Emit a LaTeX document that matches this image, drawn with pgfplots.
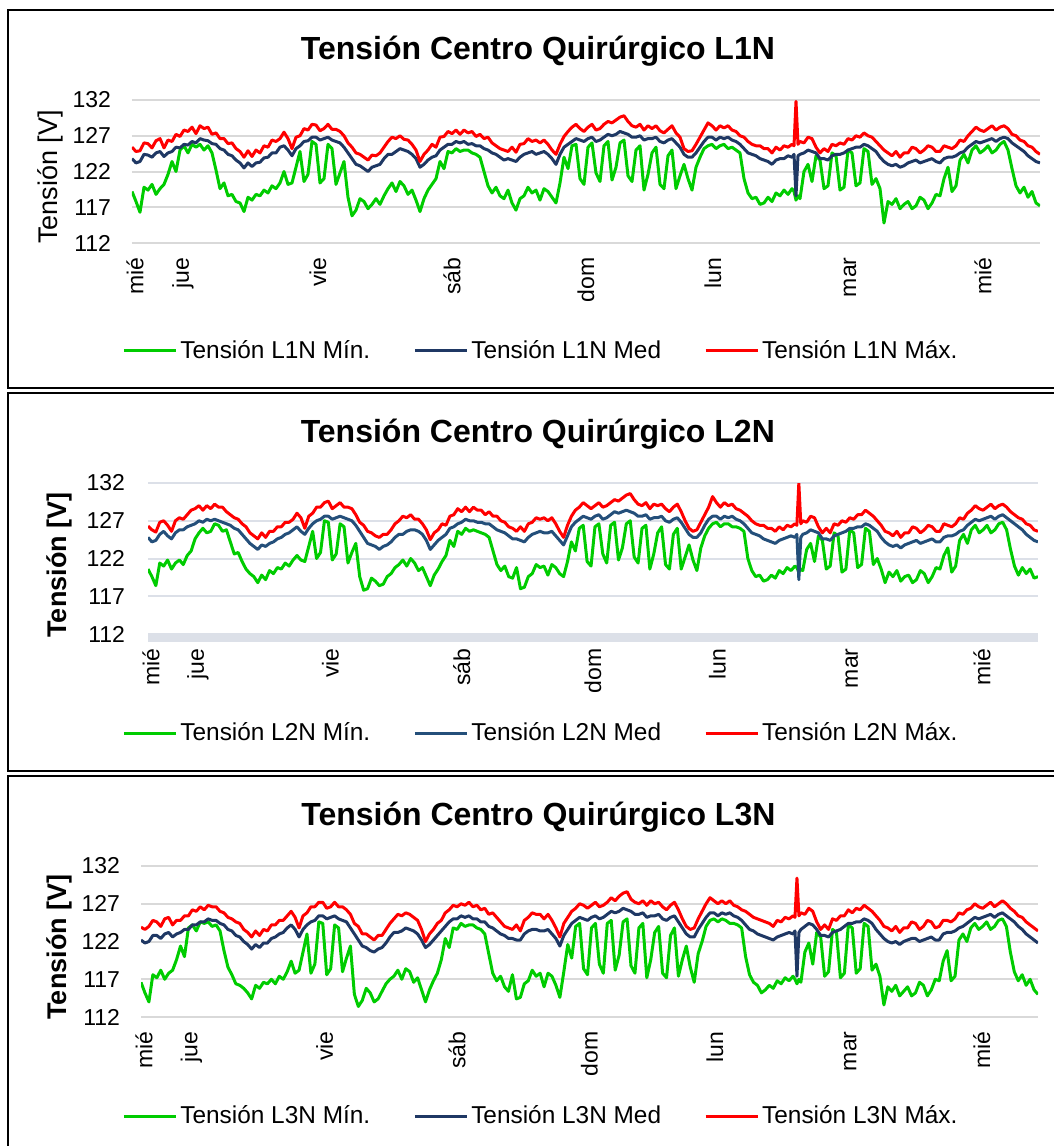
\documentclass[border=0pt]{standalone}
\usepackage{fontspec}
\setmainfont{Liberation Sans}
\usepackage{pgfplots}
\usepackage{pgfplotstable}
\pgfplotsset{compat=1.18}

\definecolor{cmin}{RGB}{0,204,0}
\definecolor{cmed}{RGB}{31,56,100}
\definecolor{cmedb}{RGB}{36,79,122}
\definecolor{cmax}{RGB}{255,0,0}
\definecolor{gridg}{RGB}{217,217,217}
\definecolor{gridb}{RGB}{220,224,232}

% columns: x (sample position), minimum, mean, maximum voltage
\pgfplotstableread{
x mn md mx
132 119.2 123.8 125.4
136 117.8 123.2 124.8
140 116.3 123.4 124.9
144 119.8 124.4 126.0
148 119.4 124.3 125.9
152 120.2 124.0 125.3
156 118.8 124.6 126.3
160 119.6 124.8 126.6
164 120.2 124.1 125.3
168 121.6 124.6 126.4
172 123.4 124.8 126.2
176 122.0 125.4 127.2
180 125.0 125.3 126.9
184 125.6 125.8 127.8
188 124.6 125.7 127.6
192 125.8 126.2 128.2
196 125.4 126.0 127.3
200 125.8 126.6 128.4
204 125.0 126.4 128.0
208 125.6 126.3 128.2
212 124.6 125.9 127.2
216 122.2 125.8 127.4
220 119.6 125.2 126.6
224 120.4 125.0 126.6
228 118.6 124.4 125.9
232 118.8 124.2 126.0
236 117.8 123.6 125.2
240 117.6 123.2 124.8
244 116.4 122.5 124.0
248 118.4 123.2 124.9
252 118.0 122.7 124.1
256 118.8 123.2 125.0
260 118.6 123.3 124.6
264 119.4 123.9 125.6
268 119.0 124.0 125.4
272 120.0 124.6 126.4
276 119.6 124.6 126.2
280 120.4 125.4 126.6
284 122.0 125.6 127.5
288 120.2 125.0 126.6
292 120.4 124.2 125.2
296 122.6 125.2 126.8
300 124.8 125.6 127.0
304 120.6 126.2 128.0
308 121.6 126.3 127.8
312 126.2 126.8 128.6
316 125.8 126.8 128.5
320 120.4 126.4 127.7
324 121.0 126.6 128.0
328 125.8 126.8 128.6
332 125.2 126.4 127.9
336 120.2 126.2 127.9
340 121.8 126.0 127.6
344 123.4 125.4 127.0
348 118.4 124.6 126.0
352 115.8 123.8 125.4
356 116.6 123.0 124.6
360 118.2 122.8 124.4
364 117.8 122.4 124.0
368 116.8 122.0 123.6
372 117.4 122.6 124.3
376 118.2 122.8 124.2
380 117.4 123.0 124.6
384 118.6 123.8 125.4
388 119.6 124.4 126.2
392 120.4 124.4 126.8
396 119.2 124.8 126.6
400 120.6 125.2 127.0
404 120.0 125.0 126.5
408 118.8 124.8 126.4
412 119.4 124.4 125.8
416 118.0 123.8 125.0
420 116.4 122.6 123.4
424 118.2 123.0 124.4
428 119.4 123.6 125.0
432 120.2 124.0 125.8
436 121.0 124.2 125.4
440 123.4 125.0 126.8
444 122.4 125.4 126.9
448 124.8 125.8 127.6
452 124.6 125.8 127.3
456 125.2 126.2 127.8
460 124.8 126.0 127.2
464 125.0 126.2 127.8
468 125.0 125.8 127.4
472 124.6 125.9 127.6
476 124.4 125.6 126.9
480 124.0 125.6 127.2
484 122.0 125.2 126.6
488 120.0 125.0 126.8
492 119.0 124.6 126.0
496 119.8 124.4 125.6
500 118.6 124.0 125.2
504 118.2 123.6 125.0
508 119.4 123.8 124.8
512 117.6 123.6 125.4
516 116.6 123.4 124.7
520 118.2 124.0 125.8
524 118.6 124.4 125.9
528 119.8 124.6 126.6
532 119.0 124.8 126.2
536 119.4 124.4 126.4
540 118.0 124.6 126.0
544 119.6 124.8 126.4
548 119.2 124.4 125.8
552 118.4 123.8 125.0
556 117.6 123.0 124.4
560 120.4 124.4 125.8
564 124.0 125.4 126.9
568 122.4 125.8 127.6
572 125.6 126.2 128.2
576 125.8 126.6 128.6
580 121.0 126.4 128.0
584 120.2 126.2 127.6
588 125.4 126.6 128.2
592 126.0 126.8 128.6
596 121.8 126.2 127.8
600 120.6 126.4 128.0
604 125.6 126.8 128.6
608 126.2 127.2 129.0
612 120.8 127.0 128.8
616 122.6 127.2 129.2
620 126.0 127.6 129.6
624 126.4 127.4 129.8
628 121.4 127.2 129.0
632 120.6 126.8 128.4
636 125.0 126.8 128.2
640 125.6 127.0 128.6
644 119.4 126.4 127.8
648 121.6 126.6 128.4
652 124.6 126.6 128.0
656 125.4 126.8 128.4
660 120.2 126.2 127.7
664 119.6 126.0 127.4
668 124.2 126.4 127.9
672 125.0 126.6 128.4
676 119.6 126.0 127.4
680 121.4 125.4 126.8
684 123.0 124.4 125.2
688 121.0 124.0 124.8
692 119.4 124.0 124.9
696 122.6 124.6 125.8
700 124.0 125.4 126.8
704 125.2 126.2 127.8
708 125.6 126.8 128.8
712 125.8 126.8 128.4
716 125.2 126.4 127.8
720 125.6 126.8 128.4
724 125.8 126.6 128.1
728 125.2 126.8 128.4
732 125.4 126.4 127.8
736 125.0 126.2 127.6
740 124.6 125.8 127.0
744 121.0 125.2 126.8
748 119.0 124.6 126.2
752 118.2 124.4 125.8
756 118.4 124.2 125.6
760 117.4 123.8 125.6
764 117.6 123.6 125.2
768 118.4 123.4 125.2
772 117.8 123.0 124.6
776 119.0 123.6 125.4
780 118.6 123.8 125.0
784 119.4 123.8 125.6
788 118.8 124.2 125.4
792 119.6 124.0 125.8
794 119.2 124.4 125.6
796 118.0 118.6 131.8
798 118.6 124.2 125.8
800 118.2 124.4 126.2
804 122.0 124.6 126.0
808 123.0 125.0 126.8
812 120.6 124.8 126.6
816 124.2 124.6 125.4
820 123.6 123.8 124.6
824 119.6 123.8 125.2
828 120.0 123.6 124.8
832 124.6 124.2 125.8
836 124.2 124.4 125.6
840 119.4 124.4 126.0
844 119.8 124.6 125.8
848 125.0 125.0 126.6
852 124.6 125.2 126.4
856 120.0 125.4 127.0
860 120.4 125.4 126.8
864 125.2 125.8 127.4
868 124.8 125.6 127.0
872 120.2 125.2 126.8
876 121.0 124.8 126.2
880 119.6 124.0 125.6
884 114.8 123.4 125.0
888 117.8 123.0 124.6
892 117.4 122.8 124.2
896 118.2 123.0 124.8
900 116.8 122.6 124.0
904 117.4 122.8 124.6
908 117.8 123.2 124.6
912 116.8 123.4 125.4
916 117.2 123.6 125.2
920 118.4 123.2 124.6
924 118.0 123.4 125.0
928 116.8 123.6 125.6
932 117.6 123.8 125.4
936 118.8 123.4 124.8
940 118.6 123.2 124.8
944 121.0 123.8 125.6
948 122.6 124.0 125.4
952 119.2 124.0 125.2
956 120.0 124.2 125.6
960 123.6 124.6 126.4
964 124.4 124.8 126.2
968 123.2 125.4 127.0
972 125.0 125.8 127.6
976 125.6 126.2 128.2
980 124.6 126.0 127.8
984 125.0 126.2 127.6
988 125.6 126.4 128.0
992 124.6 126.6 128.4
996 125.0 126.2 127.8
1000 125.8 126.6 128.2
1004 126.2 126.8 128.4
1008 125.0 126.6 128.0
1012 122.4 126.0 127.2
1016 120.0 125.6 127.0
1020 119.0 125.2 126.4
1024 119.8 124.8 126.2
1028 118.4 124.2 125.6
1032 119.2 123.8 125.4
1036 117.6 123.4 124.8
1040 117.2 123.2 124.4
}\dataA

\pgfplotstableread{
x mn md mx
132 120.6 124.8 126.3
136 119.6 124.2 125.8
140 118.4 124.4 125.5
144 121.4 125.2 126.8
148 121.0 125.6 127.0
152 121.8 125.0 126.4
156 120.6 124.6 125.6
160 121.4 125.4 127.0
164 121.8 125.8 127.4
168 121.2 125.8 127.2
172 122.4 126.2 127.8
176 123.0 126.4 128.4
180 124.6 126.6 128.6
184 125.4 127.0 129.0
188 126.0 126.8 128.4
192 125.4 127.2 129.0
196 125.6 127.0 128.6
200 126.6 127.2 129.2
204 126.4 127.0 128.8
208 125.6 126.8 128.8
212 125.8 126.6 128.2
216 124.2 126.4 127.8
220 122.6 126.0 127.4
224 122.8 125.8 127.2
228 121.6 125.2 126.6
232 120.6 124.6 126.2
236 120.0 124.0 125.4
240 119.6 123.6 125.0
244 118.8 123.2 124.6
248 119.8 123.8 125.4
252 119.2 123.6 124.8
256 120.4 124.0 125.6
260 120.0 124.2 125.6
264 120.8 124.6 126.2
268 120.6 124.8 126.2
272 121.4 125.2 126.8
276 121.0 125.4 126.8
280 121.8 125.8 127.2
284 122.4 126.2 128.0
288 121.8 125.6 127.4
292 121.6 125.2 126.0
296 123.6 126.0 127.6
300 125.6 126.6 128.0
304 122.0 127.0 128.8
308 122.8 127.2 128.8
312 127.0 127.6 129.4
316 126.8 127.6 129.6
320 121.8 127.2 128.6
324 122.6 127.4 129.0
328 126.6 127.6 129.4
332 126.2 127.4 128.8
336 121.4 127.2 128.8
340 122.8 127.0 128.6
344 124.0 126.4 127.8
348 119.6 125.6 126.8
352 117.8 124.8 126.4
356 118.0 124.0 125.6
360 119.4 123.8 125.4
364 119.0 123.6 125.0
368 118.4 123.2 124.8
372 118.6 123.6 125.2
376 119.6 123.8 125.2
380 120.0 124.2 125.8
384 120.8 124.8 126.6
388 121.2 125.2 127.0
392 121.8 125.2 127.6
396 121.0 125.6 127.4
400 122.0 125.8 127.8
404 121.4 125.8 127.2
408 120.4 125.6 127.2
412 120.8 125.2 126.6
416 119.6 124.4 125.8
420 118.4 123.2 124.5
424 119.8 123.8 125.4
428 120.6 124.4 125.8
432 121.6 124.8 126.6
436 122.4 125.2 126.4
440 124.4 126.0 127.6
444 123.6 126.2 127.8
448 125.6 126.6 128.6
452 125.2 126.8 128.2
456 126.0 127.2 128.8
460 125.6 127.0 128.2
464 125.8 127.0 128.8
468 125.6 126.8 128.4
472 125.4 126.8 128.4
476 125.2 126.6 127.8
480 124.8 126.6 128.2
484 123.0 126.2 127.6
488 121.2 125.8 127.6
492 120.4 125.6 127.0
496 121.0 125.4 126.8
500 119.6 125.0 126.2
504 119.4 124.6 126.0
508 120.8 124.6 125.6
512 118.0 124.4 126.2
516 118.2 124.2 125.6
520 119.6 124.8 126.6
524 120.0 125.2 126.8
528 121.2 125.4 127.4
532 120.8 125.6 127.2
536 121.0 125.4 127.4
540 119.8 125.4 127.0
544 121.2 125.6 127.4
548 120.8 125.0 126.6
552 120.0 124.4 125.6
556 119.6 123.8 124.8
560 121.6 125.0 126.4
564 124.2 126.2 127.6
568 123.0 126.8 128.4
572 126.0 127.2 128.8
576 126.4 127.6 129.4
580 121.6 127.4 129.0
584 121.0 127.2 128.6
588 126.2 127.6 129.0
592 126.6 127.8 129.4
596 122.6 127.2 128.8
600 121.4 127.4 129.0
604 126.4 127.8 129.4
608 126.8 128.2 129.8
612 121.8 128.0 129.6
616 123.4 128.2 130.0
620 126.6 128.4 130.4
624 127.0 128.2 130.6
628 122.2 128.0 129.8
632 121.4 127.6 129.2
636 126.0 127.6 129.0
640 126.4 127.8 129.4
644 120.6 127.2 128.6
648 122.6 127.4 129.2
652 125.4 127.4 129.0
656 126.2 127.6 129.2
660 121.2 127.0 128.6
664 120.6 126.8 128.2
668 125.2 127.2 128.8
672 126.0 127.4 129.2
676 120.6 126.8 128.2
680 122.2 126.0 127.0
684 123.8 125.2 126.0
688 121.8 124.8 125.6
692 120.4 124.8 125.8
696 123.4 125.4 126.8
700 125.0 126.4 127.8
704 126.0 127.2 128.8
708 126.6 127.6 130.2
712 126.8 127.6 129.4
716 126.2 127.2 128.8
720 126.6 127.6 129.4
724 126.6 127.4 129.0
728 126.2 127.6 129.2
732 126.2 127.2 128.6
736 126.0 127.0 128.4
740 125.6 126.6 128.0
744 122.0 126.0 127.6
748 120.4 125.4 127.0
752 119.6 125.2 126.6
756 119.8 125.0 126.4
760 119.0 124.6 126.4
764 119.2 124.4 126.0
768 119.8 124.2 126.0
772 119.4 124.0 125.6
776 120.4 124.4 126.2
780 120.0 124.6 125.8
784 120.8 124.8 126.4
788 120.4 125.0 126.2
792 121.0 124.8 126.6
794 120.8 125.2 126.4
796 120.2 119.2 132.0
798 120.6 124.8 126.6
800 120.4 125.2 127.0
804 123.2 125.4 126.8
808 124.0 125.8 127.6
812 121.6 125.6 127.4
816 125.0 125.4 126.2
820 124.4 124.6 125.4
824 120.6 124.6 126.0
828 121.0 124.4 125.4
832 125.4 125.0 126.6
836 125.0 125.2 126.4
840 120.2 125.4 127.0
844 120.6 125.6 126.8
848 125.8 126.0 127.4
852 125.4 126.0 127.2
856 120.8 126.2 127.8
860 121.2 126.2 127.8
864 126.0 126.6 128.4
868 125.6 126.4 128.0
872 121.2 126.0 127.6
876 122.0 125.6 127.0
880 120.6 124.8 126.4
884 118.8 124.2 125.6
888 120.2 123.8 125.4
892 119.6 123.6 125.0
896 120.4 123.8 125.6
900 119.0 123.4 124.8
904 119.6 123.8 125.4
908 119.8 124.0 125.4
912 118.8 124.2 126.2
916 119.2 124.4 126.0
920 120.4 124.0 125.4
924 120.0 124.2 125.8
928 118.8 124.4 126.4
932 119.6 124.6 126.2
936 120.8 124.2 125.6
940 120.6 124.2 125.6
944 122.4 124.8 126.6
948 123.4 125.0 126.4
952 120.2 125.0 126.2
956 121.0 125.2 126.6
960 124.4 125.6 127.4
964 125.2 125.8 127.2
968 124.0 126.4 128.0
972 125.8 126.8 128.4
976 126.4 127.2 129.0
980 125.4 127.0 128.6
984 125.8 127.2 128.4
988 126.4 127.4 128.8
992 125.4 127.6 129.2
996 125.8 127.2 128.6
1000 126.6 127.6 129.0
1004 126.8 127.8 129.2
1008 125.8 127.4 128.8
1012 123.2 127.0 128.2
1016 121.0 126.6 127.8
1020 119.8 126.2 127.4
1024 120.8 125.8 127.2
1028 120.0 125.2 126.6
1032 120.6 124.8 126.4
1036 119.4 124.4 125.8
1040 119.6 124.2 125.6
}\dataB

\pgfplotstableread{
x mn md mx
132 116.6 122.2 123.9
136 115.2 121.8 123.6
140 114.0 122.0 124.0
144 117.6 122.8 124.8
148 117.2 122.8 124.6
152 118.2 122.4 124.0
156 117.0 123.0 125.0
160 117.8 123.2 125.2
164 118.2 122.6 124.2
168 119.6 123.0 124.8
172 121.4 123.2 124.8
176 120.0 123.6 125.4
180 123.8 123.6 125.4
184 124.2 124.2 126.2
188 123.4 124.2 126.0
192 124.6 124.6 126.6
196 124.4 124.6 126.2
200 124.6 125.0 126.8
204 124.0 124.8 126.6
208 124.2 124.8 126.6
212 123.4 124.4 126.0
216 120.8 124.2 125.8
220 118.6 123.6 125.2
224 117.6 123.4 125.0
228 116.4 122.8 124.6
232 116.2 122.6 124.4
236 115.8 122.0 123.6
240 115.2 121.6 123.2
244 114.4 121.0 122.6
248 116.2 121.6 123.4
252 115.8 121.2 122.8
256 116.6 121.8 123.6
260 116.4 121.8 123.4
264 117.0 122.4 124.2
268 116.4 122.6 124.2
272 117.4 123.0 124.8
276 117.0 123.2 124.8
280 118.0 123.8 125.4
284 119.4 124.2 126.0
288 117.8 123.6 125.2
292 118.2 122.6 123.8
296 120.6 123.6 125.4
300 123.0 124.2 125.8
304 117.8 124.6 126.6
308 119.0 124.8 126.6
312 124.6 125.4 127.2
316 124.4 125.4 127.2
320 117.6 125.0 126.4
324 118.4 125.2 126.6
328 124.2 125.4 127.2
332 123.8 125.0 126.6
336 118.0 124.8 126.6
340 119.8 124.6 126.2
344 121.4 123.8 125.6
348 115.0 123.0 124.4
352 113.4 122.2 124.0
356 114.2 121.4 123.0
360 115.8 121.2 123.0
364 115.2 120.8 122.6
368 114.0 120.6 122.2
372 114.4 121.0 122.8
376 115.4 121.2 122.8
380 116.4 121.8 123.6
384 117.0 122.6 124.4
388 117.4 123.2 125.0
392 118.2 123.2 125.6
396 117.0 123.4 125.4
400 118.4 123.8 125.8
404 118.0 123.6 125.6
408 116.6 123.4 125.2
412 117.2 123.0 124.8
416 115.6 122.2 123.6
420 114.0 121.2 122.0
424 115.6 121.6 123.0
428 116.8 122.2 123.6
432 117.8 122.8 124.4
436 119.6 123.4 124.8
440 122.4 124.0 125.8
444 121.2 124.6 126.2
448 123.8 125.0 126.8
452 123.6 125.0 126.6
456 124.4 125.4 127.0
460 124.0 125.2 126.8
464 124.2 125.4 127.2
468 124.2 125.0 126.6
472 123.8 125.0 126.8
476 123.6 124.6 126.2
480 123.0 124.6 126.4
484 120.4 124.0 125.6
488 117.8 123.8 125.8
492 116.8 123.4 125.2
496 117.4 123.0 124.6
500 116.0 122.8 124.0
504 115.4 122.4 123.8
508 117.6 122.4 123.6
512 114.4 122.2 124.2
516 114.6 122.2 123.4
520 116.4 123.0 124.8
524 116.8 123.4 125.2
528 118.2 123.6 125.8
532 117.4 123.6 125.6
536 117.8 123.4 125.6
540 116.0 123.4 125.0
544 117.8 123.6 125.6
548 117.4 123.0 124.8
552 116.2 122.4 123.8
556 114.6 121.4 122.6
560 118.0 122.8 124.4
564 121.6 123.6 125.2
568 119.8 124.4 126.0
572 124.0 124.8 126.4
576 124.4 125.2 127.0
580 118.4 125.0 126.8
584 117.6 124.8 126.4
588 123.8 125.2 126.8
592 124.4 125.4 127.2
596 119.0 125.0 126.6
600 117.8 125.2 126.8
604 124.4 125.6 127.2
608 124.8 126.0 127.8
612 118.2 125.8 127.4
616 120.2 126.0 128.0
620 124.6 126.4 128.4
624 125.0 126.2 128.6
628 118.8 126.0 127.6
632 117.8 125.6 127.2
636 123.8 125.6 127.0
640 124.4 125.8 127.4
644 117.2 125.2 126.8
648 119.6 125.4 127.4
652 123.2 125.4 127.0
656 124.0 125.6 127.2
660 117.8 125.0 126.6
664 117.2 124.8 126.2
668 122.8 125.2 126.8
672 123.8 125.4 127.2
676 117.4 124.6 126.2
680 119.6 123.8 125.0
684 121.4 123.0 124.0
688 118.6 122.6 123.6
692 116.6 122.6 123.8
696 120.4 123.6 125.0
700 122.0 124.4 126.0
704 124.0 125.2 127.0
708 124.8 125.8 127.8
712 125.0 125.8 127.4
716 124.6 125.4 127.0
720 125.0 125.8 127.4
724 124.8 125.6 127.0
728 124.4 125.8 127.4
732 124.4 125.4 126.8
736 124.2 125.2 126.6
740 123.8 124.8 126.2
744 120.0 124.2 126.0
748 117.6 123.6 125.6
752 116.6 123.4 125.2
756 116.2 123.0 125.0
760 115.2 122.8 124.8
764 115.6 122.6 124.6
768 116.2 122.4 124.4
772 115.8 122.2 124.0
776 116.8 122.6 124.8
780 116.4 122.8 124.6
784 117.2 123.0 125.2
788 116.8 123.2 125.0
792 117.4 123.0 125.4
794 117.0 123.4 125.2
796 116.4 117.4 130.4
798 117.0 123.2 125.4
800 116.6 123.6 125.8
804 120.6 124.0 125.6
808 121.8 124.4 126.4
812 119.0 124.2 126.0
816 123.2 123.6 124.6
820 122.6 122.8 123.6
824 117.4 122.8 124.2
828 118.0 122.6 123.6
832 123.6 123.2 125.0
836 123.2 123.4 124.8
840 117.2 123.6 125.4
844 117.8 124.0 125.4
848 124.2 124.4 126.2
852 123.8 124.4 125.8
856 117.8 124.6 126.4
860 118.4 124.6 126.2
864 124.4 125.0 126.8
868 124.0 124.8 126.4
872 118.2 124.4 126.0
876 119.0 123.6 125.4
880 117.4 123.0 124.8
884 113.6 122.4 124.0
888 116.0 122.0 123.8
892 115.4 121.8 123.4
896 116.2 122.0 124.0
900 114.8 121.6 123.2
904 115.4 122.0 123.8
908 116.0 122.2 123.8
912 114.8 122.4 124.6
916 115.2 122.4 124.4
920 116.6 122.0 123.6
924 116.2 122.2 124.0
928 114.8 122.4 124.8
932 115.6 122.6 124.6
936 117.0 122.2 123.8
940 116.8 122.2 124.0
944 119.4 123.0 124.8
948 120.8 123.2 124.8
952 116.8 123.2 124.6
956 117.4 123.4 125.0
960 122.2 123.8 125.8
964 123.0 124.0 125.6
968 122.0 124.4 126.2
972 123.8 124.8 126.4
976 124.4 125.2 127.0
980 123.6 125.0 126.6
984 124.0 125.2 126.4
988 124.6 125.4 126.8
992 123.6 125.6 127.2
996 124.0 125.2 126.6
1000 124.8 125.6 127.0
1004 125.0 125.8 127.4
1008 124.0 125.4 127.0
1012 120.6 125.0 126.4
1016 118.0 124.6 126.0
1020 116.8 124.0 125.4
1024 117.6 123.6 125.2
1028 116.2 123.0 124.6
1032 117.0 122.6 124.2
1036 115.6 122.2 123.8
1040 115.0 121.8 123.4
}\dataC

\pgfplotsset{
  panel/.style={
    scale only axis,
    xmin=132, xmax=1040, ymin=112, ymax=132,
    ytick={112,117,122,127,132},
    xtick={135,183,318,452,586,713,850,983},
    xticklabels={mié,jue,vie,sáb,dom,lun,mar,mié},
    xticklabel style={rotate=90, anchor=east},
    xticklabel shift=3.7pt,
    yticklabel shift=7pt,
    ymajorgrids,
    major grid style={draw=gridg, line width=1pt},
    axis line style={draw=none},
    major tick length=0pt,
    tick label style={font=\fontsize{11.5}{13}\selectfont},
    /pgf/number format/assume math mode=true,
    title style={font=\fontsize{16}{19}\selectfont\bfseries, anchor=center, yshift=18.5pt},
    legend columns=3,
    legend style={draw=none, fill=none, inner sep=0pt, anchor=west,
      font=\fontsize{12.2}{14}\selectfont, nodes={inner sep=1.5pt},
      /tikz/every even column/.append style={column sep=20pt}},
    legend image code/.code={\draw[#1] (0pt,0pt) -- (26pt,0pt);},
    every axis plot/.append style={line width=1.5pt, line join=round},
  }
}

\begin{document}
\begin{tikzpicture}
\useasboundingbox (0,0) rectangle (527pt,-573pt);
\draw[line width=1pt] (4pt,-5pt) rectangle (540pt,-194pt);
\draw[line width=1pt] (4pt,-196.5pt) rectangle (540pt,-385.5pt);
\draw[line width=1pt] (4pt,-388pt) rectangle (540pt,-590pt);

\begin{axis}[panel,
  at={(66pt,-121.5pt)}, anchor=south west,
  width=454pt, height=71.5pt,
  title={Tensión Centro Quirúrgico L1N},
  title style={at={(0.447,1)}},
  ylabel={Tensión [V]},
  ylabel style={at={(axis description cs:-0.0903,0.4615)}, anchor=center,
    font=\fontsize{13.5}{15}\selectfont},
  legend style={at={(-0.011,-0.755)}},
]
\addplot[cmin] table[x=x,y=mn]{\dataA};
\addplot[cmed] table[x=x,y=md]{\dataA};
\addplot[cmax] table[x=x,y=mx]{\dataA};
\legend{Tensión L1N Mín.,Tensión L1N Med,Tensión L1N Máx.}
\end{axis}

\begin{axis}[panel,
  at={(74pt,-317pt)}, anchor=south west,
  width=445pt, height=75.5pt,
  ytick={117,122,127,132},
  extra y ticks={112},
  extra y tick style={major grid style={draw=gridb, line width=4.6pt, yshift=-1.65pt}},
  major grid style={draw=gridb, line width=1pt},
  yticklabel shift=8pt,
  title={Tensión Centro Quirúrgico L2N},
  title style={at={(0.438,1)}},
  ylabel={Tensión [V]},
  ylabel style={at={(axis description cs:-0.1,0.457)}, anchor=center,
    font=\fontsize{13.5}{15}\selectfont\bfseries},
  legend style={at={(-0.0292,-0.656)}},
]
\addplot[cmin] table[x=x,y=mn]{\dataB};
\addplot[cmedb] table[x=x,y=md]{\dataB};
\addplot[cmax] table[x=x,y=mx]{\dataB};
\legend{Tensión L2N Mín.,Tensión L2N Med,Tensión L2N Máx.}
\end{axis}

\begin{axis}[panel,
  at={(70.5pt,-508.5pt)}, anchor=south west,
  width=448.5pt, height=75.5pt,
  title={Tensión Centro Quirúrgico L3N},
  title style={at={(0.443,1)}},
  ylabel={Tensión [V]},
  ylabel style={at={(axis description cs:-0.0914,0.4636)}, anchor=center,
    font=\fontsize{13.5}{15}\selectfont\bfseries},
  legend style={at={(-0.0212,-0.656)}},
]
\addplot[cmin] table[x=x,y=mn]{\dataC};
\addplot[cmed] table[x=x,y=md]{\dataC};
\addplot[cmax] table[x=x,y=mx]{\dataC};
\legend{Tensión L3N Mín.,Tensión L3N Med,Tensión L3N Máx.}
\end{axis}
\end{tikzpicture}
\end{document}
